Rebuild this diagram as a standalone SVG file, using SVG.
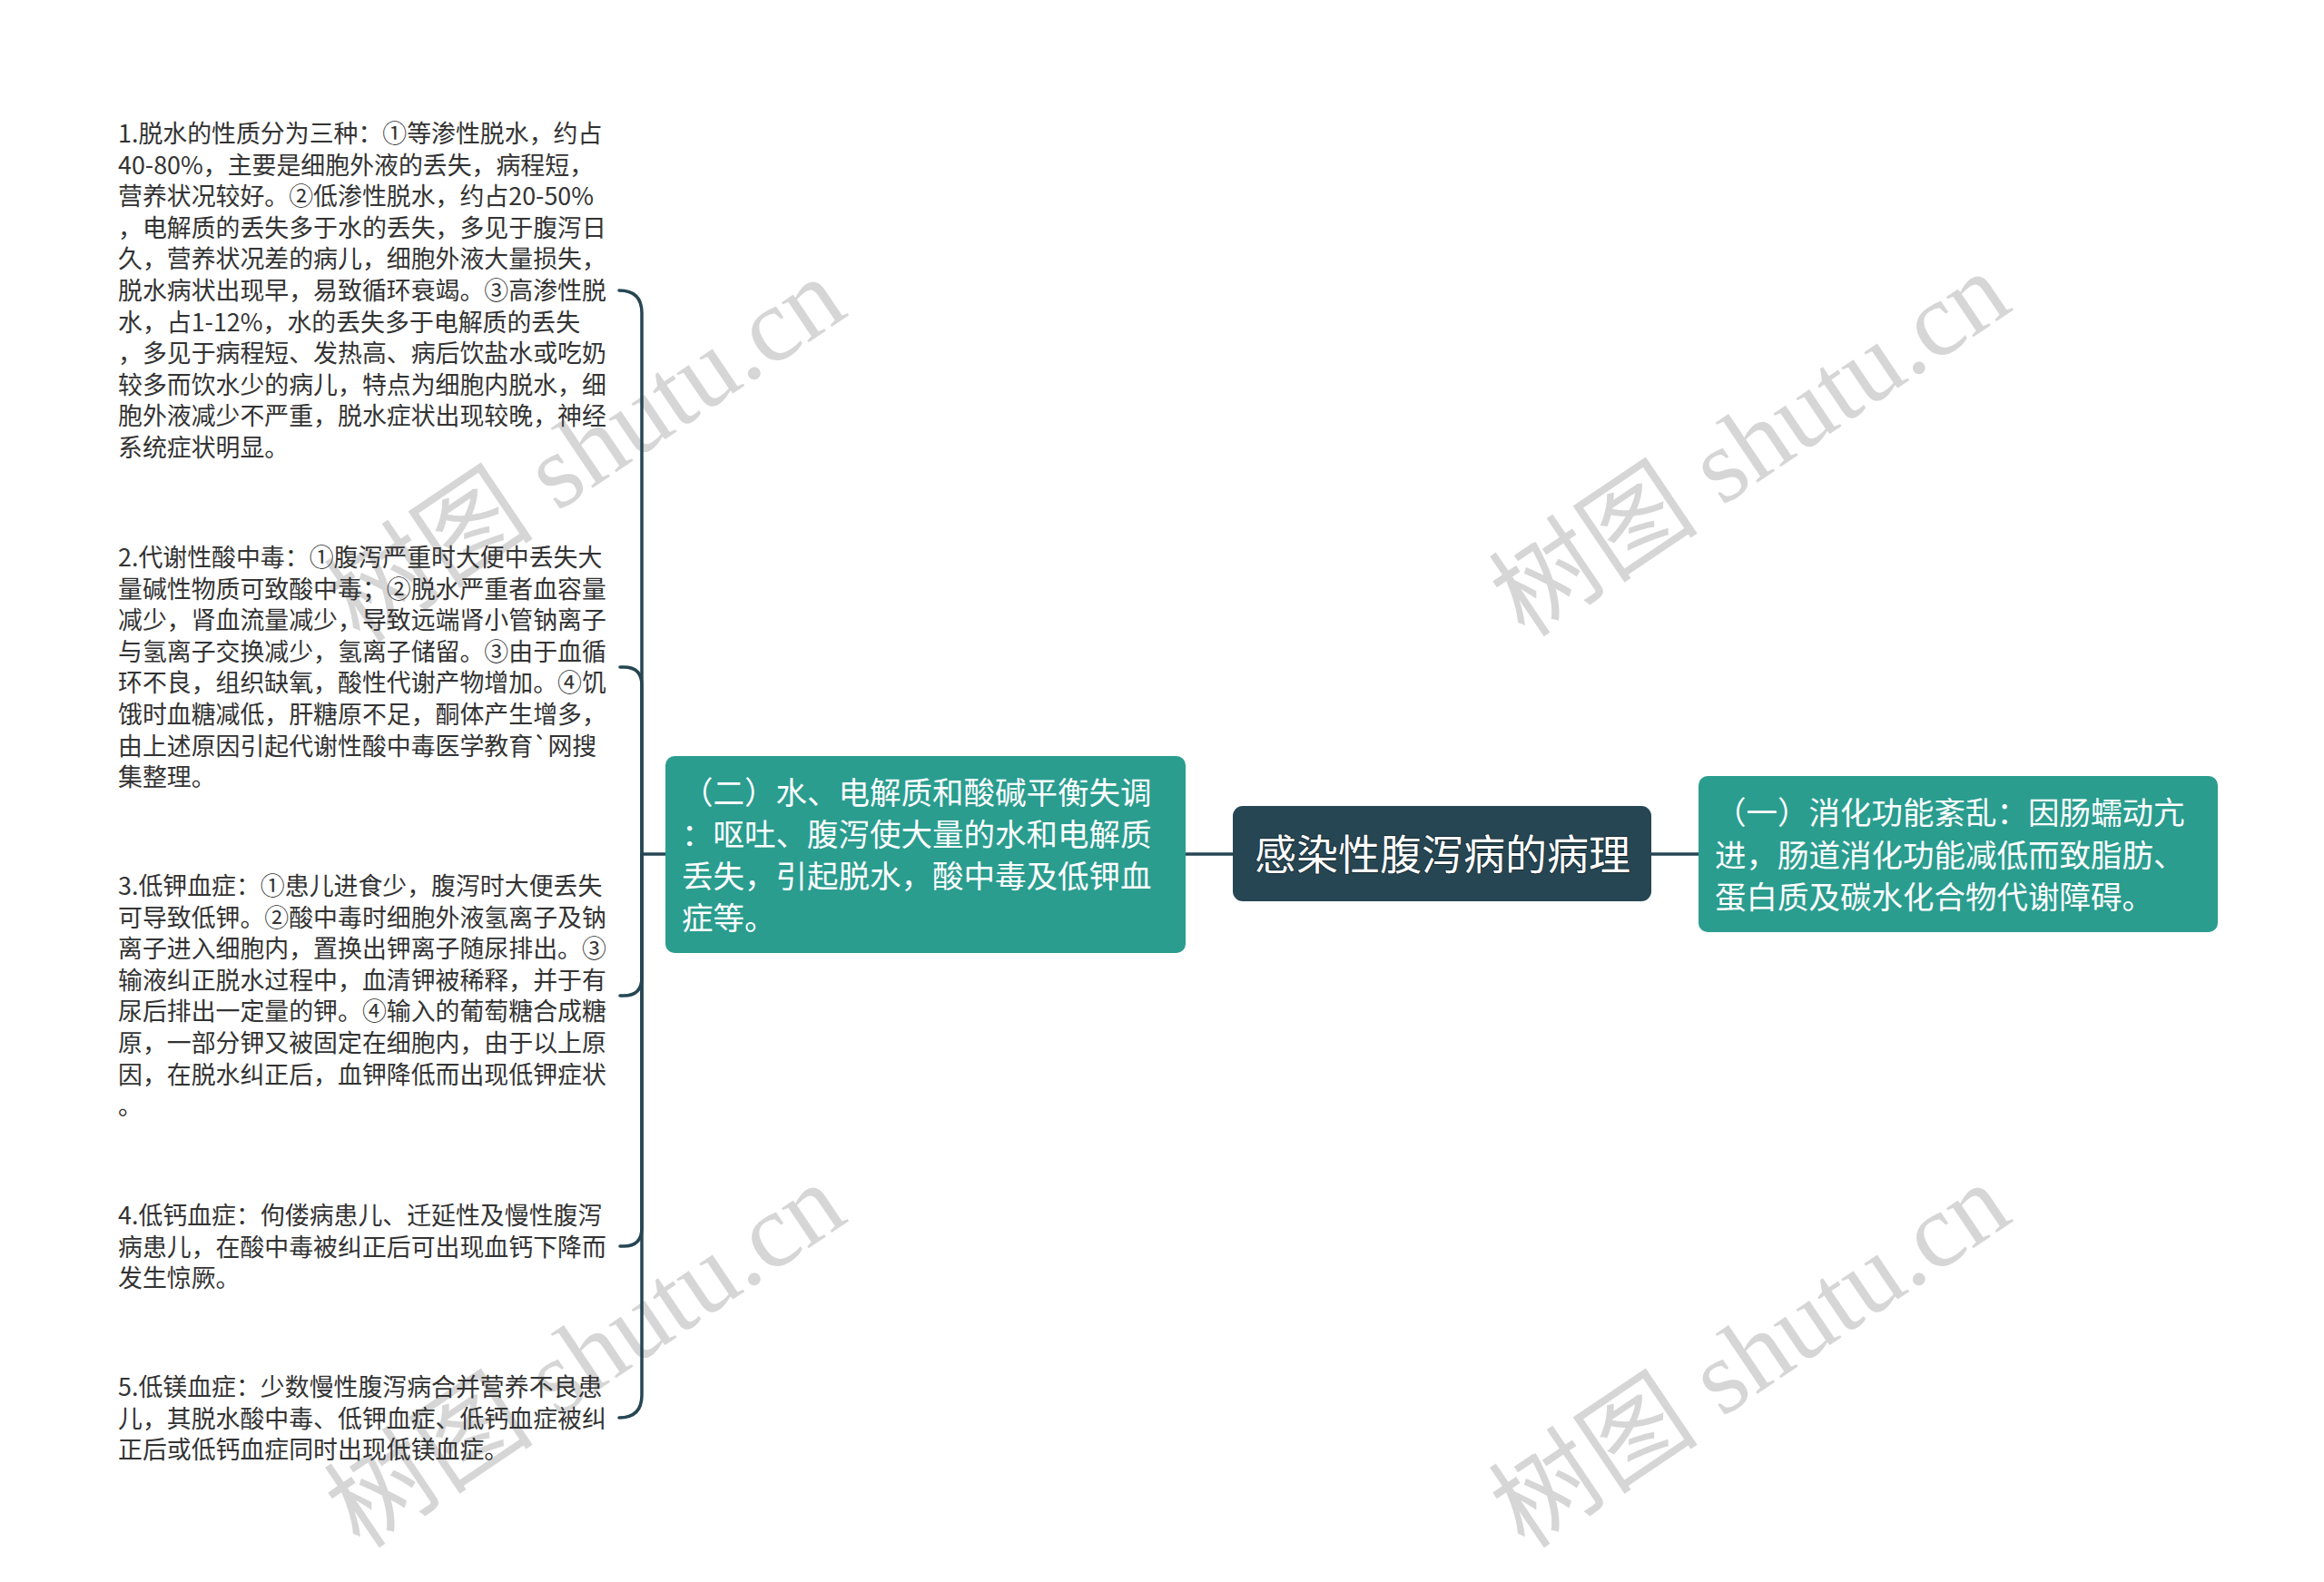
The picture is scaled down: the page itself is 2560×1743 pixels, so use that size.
<svg xmlns="http://www.w3.org/2000/svg" width="2560" height="1743" viewBox="0 0 2560 1743">
<style>
.leaf{font-family:"Noto Sans CJK SC","Liberation Sans",sans-serif;font-size:26.9px;fill:#333333}
.sub{font-family:"Noto Sans CJK SC","Liberation Sans",sans-serif;font-size:34.5px;fill:#ffffff}
.root{font-family:"Noto Sans CJK SC","Liberation Sans",sans-serif;font-size:46px;fill:#ffffff}
.conn{fill:none;stroke:#264653;stroke-width:3.5;stroke-linecap:round}
.wm{font-family:"Liberation Serif","Noto Sans CJK SC",serif;font-size:116px;fill:#d6d6d6}
</style>
<rect width="2560" height="1743" fill="#ffffff"/>
<g id="watermarks">
<text class="wm" x="645" y="496" text-anchor="middle" dominant-baseline="central" transform="rotate(-34 645 496)">树图 shutu.cn</text>
<text class="wm" x="1928" y="490" text-anchor="middle" dominant-baseline="central" transform="rotate(-34 1928 490)">树图 shutu.cn</text>
<text class="wm" x="645" y="1494" text-anchor="middle" dominant-baseline="central" transform="rotate(-34 645 1494)">树图 shutu.cn</text>
<text class="wm" x="1928" y="1494" text-anchor="middle" dominant-baseline="central" transform="rotate(-34 1928 1494)">树图 shutu.cn</text>
</g>
<g id="connectors">
<path class="conn" d="M1358 941 H1306"/>
<path class="conn" d="M1819 941 H1871"/>
<path class="conn" d="M733 941 H707"/>
<path class="conn" d="M707 941 V345 Q707 320 682 320"/>
<path class="conn" d="M707 941 V755 Q707 735 687 735 H683"/>
<path class="conn" d="M707 941 V1077 Q707 1097 687 1097 H683"/>
<path class="conn" d="M707 941 V1353 Q707 1373 687 1373 H683"/>
<path class="conn" d="M707 941 V1537 Q707 1562 682 1562"/>
</g>
<g id="root">
<rect x="1358" y="888" width="461" height="105" rx="11" fill="#264653"/>
<text class="root" x="1589" y="958" text-anchor="middle" style="paint-order:stroke" stroke="#14262e" stroke-width="1.5">感染性腹泻病的病理</text>
</g>
<g id="node-right">
<rect x="1871" y="855" width="572" height="172" rx="10" fill="#2a9d8f"/>
<text class="sub"><tspan x="1889" y="908">（一）消化功能紊乱：因肠蠕动亢</tspan><tspan x="1889" y="955">进，肠道消化功能减低而致脂肪、</tspan><tspan x="1889" y="1001">蛋白质及碳水化合物代谢障碍。</tspan></text>
</g>
<g id="node-left">
<rect x="733" y="833" width="573" height="217" rx="10" fill="#2a9d8f"/>
<text class="sub"><tspan x="751" y="886">（二）水、电解质和酸碱平衡失调</tspan><tspan x="751" y="932">：呕吐、腹泻使大量的水和电解质</tspan><tspan x="751" y="978">丢失，引起脱水，酸中毒及低钾血</tspan><tspan x="751" y="1024">症等。</tspan></text>
</g>
<g id="leaf-1">
<text class="leaf"><tspan x="130" y="157">1.脱水的性质分为三种：①等渗性脱水，约占</tspan><tspan x="130" y="191.6">40-80%，主要是细胞外液的丢失，病程短，</tspan><tspan x="130" y="226.2">营养状况较好。②低渗性脱水，约占20-50%</tspan><tspan x="130" y="260.8">，电解质的丢失多于水的丢失，多见于腹泻日</tspan><tspan x="130" y="295.4">久，营养状况差的病儿，细胞外液大量损失，</tspan><tspan x="130" y="330">脱水病状出现早，易致循环衰竭。③高渗性脱</tspan><tspan x="130" y="364.6">水，占1-12%，水的丢失多于电解质的丢失</tspan><tspan x="130" y="399.2">，多见于病程短、发热高、病后饮盐水或吃奶</tspan><tspan x="130" y="433.8">较多而饮水少的病儿，特点为细胞内脱水，细</tspan><tspan x="130" y="468.4">胞外液减少不严重，脱水症状出现较晚，神经</tspan><tspan x="130" y="503">系统症状明显。</tspan></text>
</g>
<g id="leaf-2">
<text class="leaf"><tspan x="130" y="624">2.代谢性酸中毒：①腹泻严重时大便中丢失大</tspan><tspan x="130" y="658.6">量碱性物质可致酸中毒；②脱水严重者血容量</tspan><tspan x="130" y="693.2">减少，肾血流量减少，导致远端肾小管钠离子</tspan><tspan x="130" y="727.8">与氢离子交换减少，氢离子储留。③由于血循</tspan><tspan x="130" y="762.4">环不良，组织缺氧，酸性代谢产物增加。④饥</tspan><tspan x="130" y="797">饿时血糖减低，肝糖原不足，酮体产生增多，</tspan><tspan x="130" y="831.6">由上述原因引起代谢性酸中毒医学教育`网搜</tspan><tspan x="130" y="866.2">集整理。</tspan></text>
</g>
<g id="leaf-3">
<text class="leaf"><tspan x="130" y="986">3.低钾血症：①患儿进食少，腹泻时大便丢失</tspan><tspan x="130" y="1020.6">可导致低钾。②酸中毒时细胞外液氢离子及钠</tspan><tspan x="130" y="1055.2">离子进入细胞内，置换出钾离子随尿排出。③</tspan><tspan x="130" y="1089.8">输液纠正脱水过程中，血清钾被稀释，并于有</tspan><tspan x="130" y="1124.4">尿后排出一定量的钾。④输入的葡萄糖合成糖</tspan><tspan x="130" y="1159">原，一部分钾又被固定在细胞内，由于以上原</tspan><tspan x="130" y="1193.6">因，在脱水纠正后，血钾降低而出现低钾症状</tspan><tspan x="130" y="1228.2">。</tspan></text>
</g>
<g id="leaf-4">
<text class="leaf"><tspan x="130" y="1349">4.低钙血症：佝偻病患儿、迁延性及慢性腹泻</tspan><tspan x="130" y="1383.6">病患儿，在酸中毒被纠正后可出现血钙下降而</tspan><tspan x="130" y="1418.2">发生惊厥。</tspan></text>
</g>
<g id="leaf-5">
<text class="leaf"><tspan x="130" y="1538">5.低镁血症：少数慢性腹泻病合并营养不良患</tspan><tspan x="130" y="1572.6">儿，其脱水酸中毒、低钾血症、低钙血症被纠</tspan><tspan x="130" y="1607.2">正后或低钙血症同时出现低镁血症。</tspan></text>
</g>
</svg>
